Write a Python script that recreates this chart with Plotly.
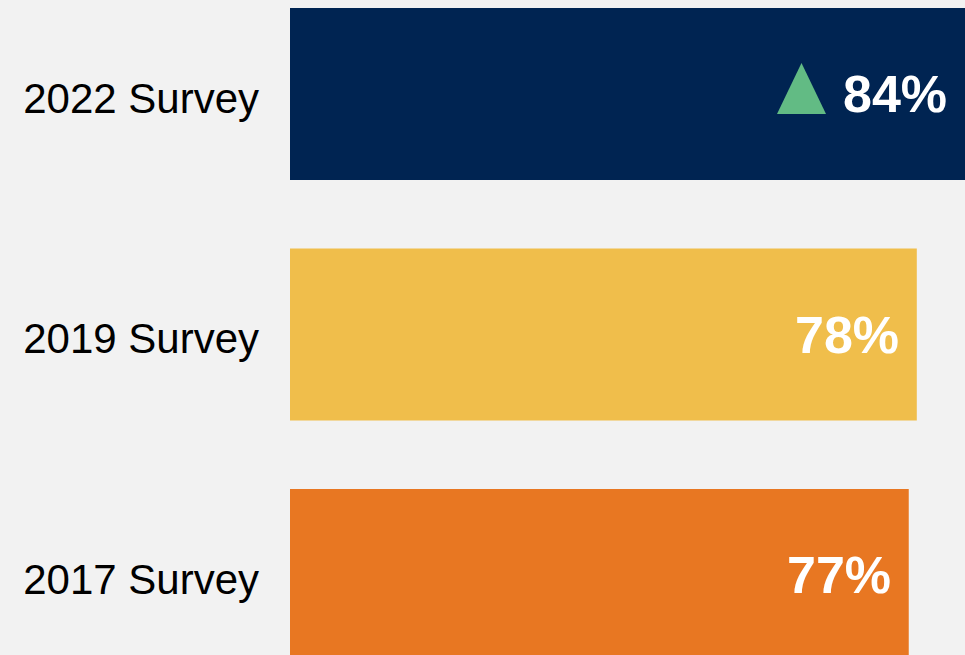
import plotly.graph_objects as go

# Survey results, bottom to top on the chart
surveys = ["2017 Survey", "2019 Survey", "2022 Survey"]
scores = [77, 78, 84]
bar_colors = ["#E87722", "#F0BE4B", "#002452"]
value_labels = ["77%", "78%", "84%"]

# Survey that gets the upward-trend marker
trend_survey = "2022 Survey"
trend_score = 84

fig = go.Figure()

fig.add_trace(go.Bar(
    x=scores,
    y=surveys,
    orientation="h",
    marker=dict(color=bar_colors, line=dict(width=0)),
    hoverinfo="skip",
    showlegend=False,
))

# value labels, right-aligned inside the end of each bar
for s, v, lab in zip(surveys, scores, value_labels):
    fig.add_annotation(
        x=v, y=s, xref="x", yref="y",
        text=lab, showarrow=False,
        xanchor="right", yanchor="middle",
        xshift=-16,
        font=dict(family="Liberation Sans, Arial, sans-serif", size=52, color="white", weight="bold"),
    )

# green up-triangle beside the latest value
fig.add_shape(
    type="path",
    xref="x", yref="y",
    xsizemode="pixel", ysizemode="pixel",
    xanchor=trend_score, yanchor=trend_survey,
    path="M -188,-20 L -139,-20 L -163.5,31 Z",
    fillcolor="#62BB84",
    line=dict(width=0),
    layer="above",
)

fig.update_layout(
    width=965, height=655,
    margin=dict(l=290, r=0, t=0, b=0, pad=0),
    paper_bgcolor="#F2F2F2",
    plot_bgcolor="#F2F2F2",
    bargap=0.285,
    xaxis=dict(range=[0, 84], visible=False, fixedrange=True),
    yaxis=dict(
        type="category",
        categoryorder="array", categoryarray=surveys,
        range=[-0.3326, 2.3909],
        showgrid=False, zeroline=False, showline=False,
        ticks="", ticklabelstandoff=30, ticklabelshift=4,
        tickfont=dict(family="Liberation Sans, Arial, sans-serif", size=42, color="black"),
        fixedrange=True,
    ),
)

fig.write_html("out.html")
